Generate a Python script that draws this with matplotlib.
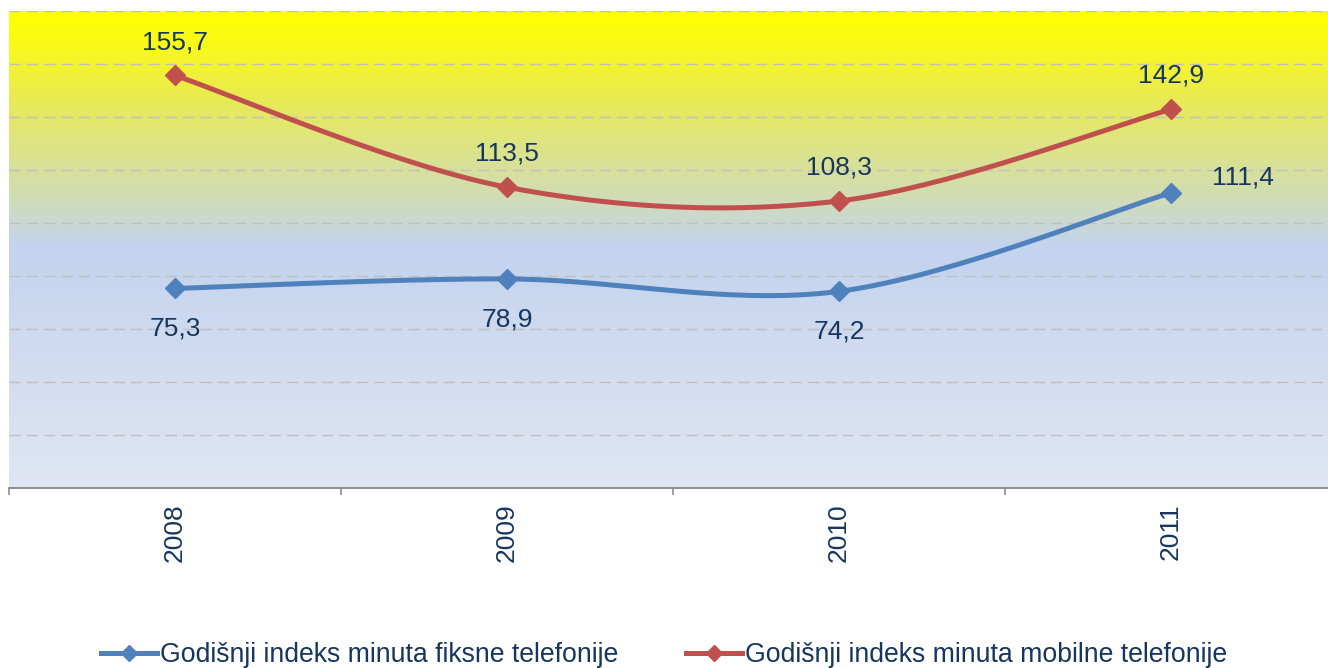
import numpy as np
import matplotlib
matplotlib.use("Agg")
import matplotlib.pyplot as plt
from matplotlib.colors import LinearSegmentedColormap
from matplotlib.lines import Line2D

plt.rcParams["font.family"] = ["Liberation Sans", "DejaVu Sans"]

# Data
years = ["2008", "2009", "2010", "2011"]
fiksna = [75.3, 78.9, 74.2, 111.4]
mobilna = [155.7, 113.5, 108.3, 142.9]
label_fiksna = "Godišnji indeks minuta fiksne telefonije"
label_mobilna = "Godišnji indeks minuta mobilne telefonije"

BLUE = "#4F81BD"
RED = "#C0504D"
TEXT = "#17365D"
FS = 19
FS_LEG = 19.2


def smooth(xs, ys, n=60):
    # Excel-like smoothed line: Catmull-Rom style bezier segments
    pts = np.column_stack([xs, ys]).astype(float)
    out = []
    for i in range(len(pts) - 1):
        p0 = pts[i - 1] if i > 0 else pts[i]
        p1 = pts[i]
        p2 = pts[i + 1]
        p3 = pts[i + 2] if i + 2 < len(pts) else pts[i + 1]
        c1 = p1 + (p2 - p0) / 6.0
        c2 = p2 - (p3 - p1) / 6.0
        t = np.linspace(0, 1, n)[:, None]
        seg = ((1 - t) ** 3) * p1 + 3 * ((1 - t) ** 2) * t * c1 + 3 * (1 - t) * t ** 2 * c2 + t ** 3 * p2
        out.append(seg if i == 0 else seg[1:])
    out = np.vstack(out)
    return out[:, 0], out[:, 1]


W, H = 1328, 668
fig = plt.figure(figsize=(W / 100, H / 100), dpi=100)
ax = fig.add_axes([9 / W, 1 - 488 / H, 1328 / W, 477 / H])

x = np.arange(len(years))
ax.set_xlim(-0.5, 3.5)
ax.set_ylim(0, 180)

# background gradient (axes fraction, bottom=0)
stops = [
    (0.0, "#E0E6F3"),
    ((488 - 245) / 477, "#C3D3EE"),
    ((488 - 200) / 477, "#D0DCB8"),
    ((488 - 150) / 477, "#DCE38A"),
    ((488 - 100) / 477, "#E8EA55"),
    ((488 - 40) / 477, "#FAFA15"),
    (1.0, "#FFFF00"),
]
cmap = LinearSegmentedColormap.from_list("bg", stops)
grad = np.linspace(0, 1, 512)[:, None]
ax.imshow(grad, cmap=cmap, aspect="auto", origin="lower",
          extent=(-0.5, 3.5, 0, 180), zorder=0, interpolation="bilinear")

for v in range(20, 181, 20):
    ax.axhline(v, color="#BFBFBF", lw=1.0, ls=(0, (8, 4.5)), zorder=1)

for s in ["left", "right", "top"]:
    ax.spines[s].set_visible(False)
ax.spines["bottom"].set_color("#868686")
ax.spines["bottom"].set_linewidth(1.3)
ax.spines["bottom"].set_zorder(3)

ax.set_yticks([])
ax.set_xticks(x)
ax.set_xticklabels(years, rotation=90, fontsize=FS, color=TEXT)
ax.tick_params(axis="x", which="major", length=0, pad=11)
ax.set_xticks(np.arange(-0.5, 3.6, 1.0), minor=True)
ax.tick_params(axis="x", which="minor", length=5, width=1.1, color="#868686")

for ys, col in [(fiksna, BLUE), (mobilna, RED)]:
    sx, sy = smooth(x, ys)
    ax.plot(sx, sy, color=col, lw=3.6, zorder=4, solid_capstyle="round")
    ax.plot(x, ys, ls="none", marker="D", ms=10.5, color=col, zorder=5)


def fmt(v):
    return f"{v:.1f}".replace(".", ",")


for i, v in enumerate(mobilna):
    ax.annotate(fmt(v), (x[i], v), xytext=(0, 19), textcoords="offset points",
                ha="center", va="baseline", fontsize=FS, color=TEXT, zorder=6)
for i, v in enumerate(fiksna):
    if i == len(fiksna) - 1:
        off = (52, 6)
    else:
        off = (0, -34)
    ax.annotate(fmt(v), (x[i], v), xytext=off, textcoords="offset points",
                ha="center", va="baseline", fontsize=FS, color=TEXT, zorder=6)

handles = [
    Line2D([], [], color=BLUE, lw=3.6, marker="D", ms=8.5),
    Line2D([], [], color=RED, lw=3.6, marker="D", ms=8.5),
]
leg = fig.legend(handles, [label_fiksna, label_mobilna], loc="center",
                 bbox_to_anchor=(0.5, 1 - 655 / H), ncol=2, frameon=False,
                 fontsize=FS_LEG, handlelength=2.1, handletextpad=0.1,
                 columnspacing=2.55, borderaxespad=0)
for t in leg.get_texts():
    t.set_color(TEXT)

fig.savefig("out.png", dpi=100)
